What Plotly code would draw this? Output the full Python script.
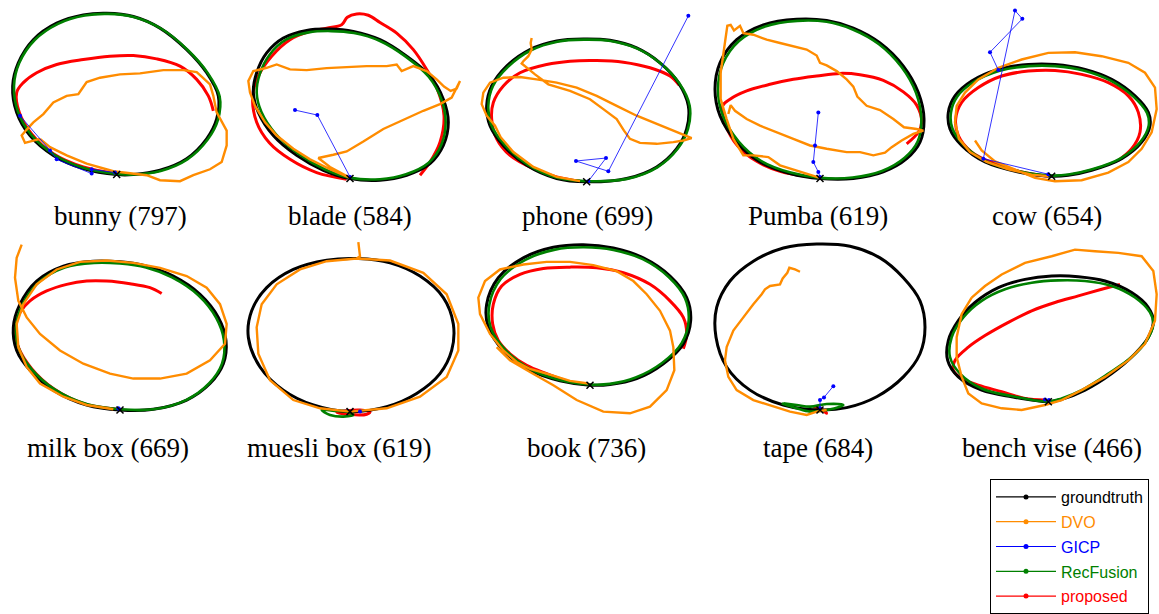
import plotly.graph_objects as go

# ---------------------------------------------------------------------------
# Trajectory data (top-down view of the camera path), one list of (x, y)
# points per method and object.  Units are arbitrary planar coordinates.
# ---------------------------------------------------------------------------
labels = ["bunny (797)", "blade (584)", "phone (699)", "Pumba (619)", "cow (654)",
          "milk box (669)", "muesli box (619)", "book (736)", "tape (684)", "bench vise (466)"]

methods = ["groundtruth", "DVO", "GICP", "RecFusion", "proposed"]

bunny_gt = [(350,528),(250,510),(160,470),(90,410),(50,340),(38,260),(55,190),(100,120),(170,70),(250,45),(320,40),(400,50),(480,85),(560,150),(620,220),(655,290),(650,360),(620,420),(560,480),(480,515),(400,528),(350,528)]
bunny_rf = [(352,526),(252,508),(163,468),(94,408),(54,338),(42,260),(58,190),(104,121),(174,72),(254,47),(324,42),(404,52),(484,87),(564,152),(624,222),(659,292),(654,362),(623,422),(562,482),(482,517),(402,528),(352,526)]
bunny_pr = [(345,524),(250,505),(160,465),(95,405),(58,340),(50,280),(70,250),(110,220),(170,195),(250,180),(330,170),(400,168),(470,178),(540,200),(590,240),(625,290),(640,335)]
bunny_dvo = [(120,420),(150,445),(200,470),(260,495),(340,518),(440,530),(480,545),(540,548),(580,530),(630,512),(665,490),(680,440),(680,395),(662,362),(650,340),(640,290),(630,255),(605,232),(590,218),(550,212),(490,212),(420,222),(360,225),(300,235),(260,248),(245,270),(235,285),(200,290),(160,310),(130,345),(100,370),(80,392),(65,410),(75,432),(100,425),(120,420)]
bunny_gicp = [(345,522),(275,512),(275,525),(170,482),(150,455),(60,350)]

blade_gt = [(330,540),(250,515),(170,470),(100,410),(55,340),(40,280),(50,220),(80,160),(130,115),(200,92),(270,88),(340,95),(420,120),(500,170),(570,230),(610,300),(625,370),(610,440),(570,495),(500,530),(420,545),(330,540)]
blade_rf = [(332,538),(254,512),(176,466),(108,406),(64,338),(50,280),(60,222),(90,164),(138,120),(206,98),(274,94),(342,100),(420,124),(498,172),(566,232),(604,300),(617,370),(604,438),(566,492),(498,527),(420,542),(332,538)]
blade_pr = [(540,530),(570,490),(600,430),(612,350),(592,270),(560,210),(520,150),(470,100),(420,68),(385,46),(350,42),(322,52),(305,75),(260,85),(210,95),(150,120),(95,170),(55,230),(38,290),(50,370),(88,432),(150,482),(230,522),(320,542)]
blade_dvo = [(330,538),(270,512),(210,482),(160,450),(110,410),(75,370),(45,320),(30,280),(25,245),(40,215),(80,205),(110,195),(150,210),(200,212),(260,206),(320,202),(380,200),(440,200),(470,195),(485,215),(520,200),(560,215),(590,240),(612,262),(632,275),(650,268),(660,245),(650,265),(635,295),(600,315),(550,335),(490,362),(430,390),(370,428),(320,458),(280,468),(235,478),(270,505),(330,538)]
blade_gicp = [(330,535),(232,348),(165,333)]

phone_gt = [(350,550),(260,540),(170,500),(100,440),(60,380),(50,320),(65,260),(110,200),(180,150),(260,124),(340,118),(420,122),(500,145),(570,190),(625,250),(655,320),(650,390),(620,450),(560,505),(470,540),(350,550)]
phone_rf = [(352,548),(262,538),(173,498),(104,438),(64,378),(55,320),(69,260),(114,202),(183,152),(262,126),(342,120),(422,124),(502,147),(572,192),(628,252),(659,320),(654,390),(623,450),(562,506),(471,541),(352,548)]
phone_pr = [(330,548),(260,535),(190,510),(120,470),(80,420),(65,360),(70,310),(100,260),(150,220),(230,195),(300,185),(380,183),(460,188),(540,205),(600,230),(628,258)]
phone_dvo = [(185,115),(182,130),(185,150),(175,170),(160,185),(155,192),(195,225),(235,255),(300,275),(360,300),(400,330),(440,360),(462,395),(480,420),(510,432),(560,435),(610,430),(640,425),(665,418),(645,410),(610,395),(560,375),(500,350),(440,320),(380,290),(320,265),(260,250),(200,240),(150,233),(100,235),(60,250),(40,280),(35,315),(50,350),(75,380),(92,415),(130,460),(190,505),(260,535),(330,548)]
phone_gicp = [(355,548),(408,478),(318,487),(415,518),(655,48)]

pumba_gt = [(360,540),(270,525),(180,490),(110,430),(60,350),(45,270),(60,190),(110,120),(190,75),(290,58),(380,62),(460,85),(540,130),(610,200),(655,280),(672,360),(660,430),(620,480),(550,520),(460,540),(360,540)]
pumba_rf = [(362,538),(272,522),(184,487),(116,428),(68,348),(54,270),(69,192),(117,124),(195,80),(292,63),(380,66),(458,89),(536,133),(604,202),(648,281),(664,360),(653,428),(614,477),(546,517),(458,537),(362,538)]
pumba_pr = [(330,535),(240,518),(170,488),(112,440),(78,380),(68,320),(90,300),(140,275),(210,255),(280,240),(350,230),(420,222),(480,226),(550,243),(610,278),(650,318),(665,370),(655,400),(620,435)]
pumba_dvo = [(360,538),(300,520),(240,500),(205,475),(160,470),(130,470),(100,420),(80,360),(62,300),(62,220),(72,140),(82,78),(92,75),(102,92),(120,78),(130,100),(160,105),(200,120),(240,130),(280,140),(320,150),(350,168),(360,190),(380,198),(410,215),(440,240),(460,262),(472,292),(500,320),(540,333),(580,360),(612,385),(650,390),(670,395),(640,405),(605,425),(575,445),(555,462),(520,470),(480,460),(440,460),(380,450),(330,440),(280,420),(230,400),(180,380),(140,360),(105,335),(92,318),(85,345)]
pumba_gicp = [(360,535),(355,520),(340,490),(345,440),(355,340)]

cow_gt = [(350,533),(250,520),(150,490),(80,440),(45,390),(40,340),(60,290),(110,245),(190,210),(280,195),(360,195),(450,210),(530,240),(600,290),(640,340),(645,380),(620,430),(560,480),(470,515),(400,530),(350,533)]
cow_rf = [(352,531),(252,518),(154,488),(86,438),(52,388),(48,340),(67,292),(116,248),(194,214),(282,200),(360,200),(448,214),(527,244),(596,293),(636,342),(641,380),(617,428),(558,478),(469,513),(400,528),(352,531)]
cow_pr = [(340,533),(260,520),(180,495),(110,460),(70,410),(62,360),(80,310),(130,265),(200,230),(280,215),(360,213),(440,225),(520,250),(580,290),(610,340),(615,400),(590,450),(550,485)]
cow_dvo = [(120,425),(140,455),(180,488),(250,518),(300,538),(360,548),(440,545),(520,522),(580,490),(620,450),(650,400),(665,330),(660,265),(630,220),(580,190),(500,170),(420,158),(340,160),(260,180),(190,205),(130,240),(90,280),(65,320),(60,370),(72,420),(105,460),(155,490),(220,512),(290,528),(340,533)]
cow_gicp = [(340,527),(145,480),(240,32),(262,57),(165,158),(190,212)]

milk_gt = [(360,520),(260,505),(160,460),(90,400),(50,340),(40,270),(60,200),(110,130),(190,85),(280,70),(360,72),(440,85),(520,115),(600,170),(655,240),(678,310),(670,380),(630,440),(560,490),(460,518),(360,520)]
milk_rf = [(362,518),(262,503),(164,458),(96,398),(58,338),(48,270),(67,202),(116,134),(194,89),(282,75),(360,77),(438,89),(516,119),(595,173),(649,242),(672,310),(666,380),(627,440),(558,490),(460,518),(362,518)]
milk_pr = [(350,518),(250,500),(160,455),(95,395),(55,330),(45,270),(60,225),(90,190),(140,160),(200,140),(260,130),(320,130),(390,138),(450,150),(485,168)]
milk_dvo = [(65,20),(50,60),(45,120),(55,190),(80,240),(120,290),(180,340),(250,380),(330,410),(400,425),(480,425),(560,410),(630,370),(675,320),(680,260),(660,200),(620,150),(560,115),(480,90),(400,75),(320,68),(240,72),(170,95),(110,140),(70,200),(50,260),(55,330),(80,390),(120,440),(190,480),(260,505),(340,518)]
milk_gicp = [(355,515),(357,517)]

muesli_gt = [(330,525),(220,505),(130,460),(60,390),(25,300),(35,220),(80,150),(160,95),(260,67),(355,62),(450,75),(540,115),(610,180),(640,260),(635,340),(600,410),(530,470),(440,510),(330,525)]
muesli_rf = [(245,520),(270,535),(310,540),(340,535),(320,525),(290,523),(245,520)]
muesli_pr = [(290,527),(330,534),(380,533),(390,525),(360,520),(320,522),(290,527)]
muesli_dvo = [(355,12),(360,55),(350,62),(450,68),(550,105),(620,170),(655,260),(655,340),(620,420),(540,480),(440,515),(330,525),(240,515),(160,490),(90,430),(55,350),(50,270),(65,200),(110,140),(180,95),(260,70),(350,62)]
muesli_gicp = [(360,525)]

book_gt = [(360,445),(270,432),(180,400),(100,340),(55,270),(50,200),(85,120),(160,60),(250,28),(340,20),(430,30),(520,60),(600,115),(650,180),(662,250),(640,320),(580,380),(500,425),(420,443),(360,445)]
book_rf = [(362,443),(272,430),(184,398),(106,338),(62,270),(58,202),(92,124),(166,66),(255,35),(342,28),(430,36),(518,64),(596,118),(645,182),(656,250),(635,318),(576,378),(497,422),(420,441),(362,443)]
book_pr = [(355,443),(300,435),(230,410),(170,385),(120,350),(85,310),(68,260),(70,200),(95,145),(150,110),(220,92),(300,88),(380,90),(460,105),(540,140),(600,190),(640,240),(650,290),(640,335)]
book_dvo = [(355,440),(300,432),(230,410),(180,396),(140,375),(100,340),(60,290),(30,230),(25,180),(45,130),(90,95),(160,80),(230,72),(300,72),(370,82),(440,100),(490,130),(530,170),(570,220),(600,280),(610,330),(613,400),(590,460),(540,510),(480,530),(400,525),(320,490),(250,445),(180,405),(120,370),(80,330)]
book_gicp = []

tape_gt = [(360,520),(250,505),(150,460),(80,390),(48,300),(50,210),(90,130),(160,70),(250,30),(350,18),(450,25),(540,60),(610,120),(660,190),(675,270),(660,350),(610,420),(530,480),(440,513),(360,520)]
tape_rf = [(245,500),(290,515),(330,525),(380,520),(420,510),(430,505),(380,502),(330,510),(290,505),(250,500)]
tape_pr = [(340,510),(360,515),(380,530),(370,520),(350,515)]
tape_dvo = [(300,102),(285,95),(268,90),(262,105),(248,122),(240,140),(210,145),(195,155),(185,170),(160,200),(130,240),(100,280),(80,330),(75,370),(85,420),(110,460),(160,490),(220,510),(270,525),(320,535),(350,525),(380,520)]
tape_gicp = [(360,515),(360,490),(372,482),(400,448)]

vise_gt = [(340,495),(230,480),(140,460),(70,420),(38,370),(40,310),(70,250),(120,195),(190,150),(270,125),(350,115),(430,117),(510,130),(590,165),(640,210),(655,250),(640,300),(600,350),(530,410),(450,460),(380,488),(340,495)]
vise_rf = [(340,495),(230,478),(140,455),(75,410),(45,360),(50,300),(85,240),(140,190),(210,155),(290,135),(370,128),(450,130),(530,145),(600,180),(645,225),(655,260),(635,310),(590,360),(520,410),(440,460),(380,485),(340,495)]
vise_pr = [(555,140),(500,155),(430,175),(360,195),(290,220),(220,255),(150,295),(100,330),(60,370),(55,400),(80,425),(130,445),(200,465),(270,485),(330,490)]
vise_dvo = [(110,180),(150,145),(200,110),(270,75),(350,55),(420,35),(480,40),(550,45),(620,55),(655,100),(665,170),(660,250),(630,320),(580,370),(510,420),(440,460),(380,490),(330,505),(260,520),(200,515),(140,500),(100,470),(80,420),(65,360),(65,300),(80,230),(110,180)]
vise_gicp = [(330,488),(342,490)]

# ---------------------------------------------------------------------------
# Styling / layout
# ---------------------------------------------------------------------------
W, H = 1159, 614
COLORS = {"groundtruth": "#000000", "DVO": "#FF8C00", "GICP": "#0000FF",
          "RecFusion": "#008000", "proposed": "#FF0000"}

# panel boxes in pixels: (left, top, width, height); coordinate units are 3 per pixel
boxes = [(0, 0, 240, 195), (240, 0, 230, 195), (470, 0, 230, 195), (700, 0, 235, 195), (935, 0, 224, 195),
         (0, 240, 240, 190), (240, 240, 230, 190), (470, 240, 230, 190), (700, 240, 235, 190), (935, 240, 224, 190)]
label_pos = [(120, 218), (350, 218), (587, 218), (818, 218), (1047, 218),
             (108, 452), (339, 452), (586, 452), (818, 452), (1052, 452)]

panels = [
    (bunny_gt, bunny_dvo, bunny_gicp, bunny_rf, bunny_pr),
    (blade_gt, blade_dvo, blade_gicp, blade_rf, blade_pr),
    (phone_gt, phone_dvo, phone_gicp, phone_rf, phone_pr),
    (pumba_gt, pumba_dvo, pumba_gicp, pumba_rf, pumba_pr),
    (cow_gt, cow_dvo, cow_gicp, cow_rf, cow_pr),
    (milk_gt, milk_dvo, milk_gicp, milk_rf, milk_pr),
    (muesli_gt, muesli_dvo, muesli_gicp, muesli_rf, muesli_pr),
    (book_gt, book_dvo, book_gicp, book_rf, book_pr),
    (tape_gt, tape_dvo, tape_gicp, tape_rf, tape_pr),
    (vise_gt, vise_dvo, vise_gicp, vise_rf, vise_pr),
]

fig = go.Figure()
layout = dict(width=W, height=H, autosize=False, margin=dict(l=0, r=0, t=0, b=0),
              paper_bgcolor="white", plot_bgcolor="white", showlegend=True)


def xy(pts):
    return [p[0] for p in pts], [p[1] for p in pts]


for i, (gt, dvo, gicp, rf, pr) in enumerate(panels):
    n = "" if i == 0 else str(i + 1)
    xa, ya = "x" + n, "y" + n
    left, top, w, h = boxes[i]
    layout["xaxis" + n] = dict(domain=[left / W, (left + w) / W], range=[0, 3 * w], visible=False,
                               fixedrange=True)
    layout["yaxis" + n] = dict(domain=[1 - (top + h) / H, 1 - top / H], range=[3 * h, 0], visible=False,
                               fixedrange=True)

    def add(pts, name, width, shape="spline", mode="lines", msize=4):
        if not pts:
            return
        x, y = xy(pts)
        fig.add_trace(go.Scatter(x=x, y=y, xaxis=xa, yaxis=ya, mode=mode, showlegend=False,
                                 line=dict(color=COLORS[name], width=width, shape=shape, smoothing=1),
                                 marker=dict(color=COLORS[name], size=msize),
                                 hoverinfo="skip"))

    add(pr, "proposed", 3.0)
    add(gt, "groundtruth", 3.0)
    add(rf, "RecFusion", 2.6)
    add(dvo, "DVO", 2.4, shape="linear")
    add(gicp, "GICP", 0.8, shape="linear", mode="lines+markers", msize=4)
    # start pose marker
    fig.add_trace(go.Scatter(x=[gt[0][0]], y=[gt[0][1]], xaxis=xa, yaxis=ya, mode="markers",
                             showlegend=False, hoverinfo="skip",
                             marker=dict(symbol="x-thin", size=7, line=dict(color="black", width=1.5))))

    layout.setdefault("annotations", []).append(dict(
        x=label_pos[i][0] / W, y=1 - label_pos[i][1] / H, xref="paper", yref="paper",
        text=labels[i], showarrow=False, xanchor="center", yanchor="middle",
        font=dict(family="Liberation Serif", size=27, color="black")))

# legend entries
for m in methods:
    fig.add_trace(go.Scatter(x=[None], y=[None], mode="lines+markers", name=f"<span style='color:{COLORS[m]}'>{m}</span>",
                             legendgroup=m, line=dict(color=COLORS[m], width=1.2),
                             marker=dict(color=COLORS[m], size=5)))

layout["legend"] = dict(x=990 / W, y=1 - 483 / H, xanchor="left", yanchor="top",
                        bordercolor="black", borderwidth=1, bgcolor="white",
                        font=dict(family="Liberation Sans", size=16, color="black"),
                        tracegroupgap=1, itemwidth=60, traceorder="grouped")

fig.update_layout(**layout)
fig.write_html("out.html")
